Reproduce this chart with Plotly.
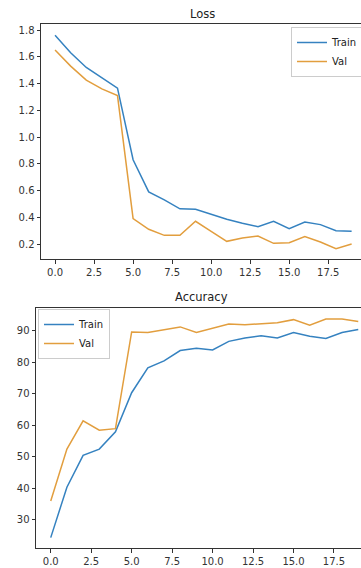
import plotly.graph_objects as go

epochs = list(range(20))
train_loss = [1.76, 1.63, 1.52, 1.44, 1.365, 0.83, 0.59, 0.53, 0.463, 0.46, 0.42, 0.385, 0.355, 0.33, 0.37, 0.315, 0.365, 0.345, 0.30, 0.295]
val_loss = [1.65, 1.53, 1.425, 1.36, 1.31, 0.39, 0.31, 0.265, 0.265, 0.37, 0.295, 0.22, 0.245, 0.26, 0.205, 0.21, 0.255, 0.215, 0.165, 0.20]
train_acc = [24.4, 40.4, 50.5, 52.5, 58.0, 70.4, 78.3, 80.5, 83.8, 84.5, 84.0, 86.7, 87.8, 88.5, 87.8, 89.5, 88.3, 87.6, 89.5, 90.5]
val_acc = [36.0, 52.5, 61.5, 58.5, 59.0, 89.7, 89.5, 90.5, 91.3, 89.5, 90.9, 92.2, 92.0, 92.2, 92.6, 93.6, 91.8, 93.8, 93.8, 93.0]

loss_yticks = [0.2, 0.4, 0.6, 0.8, 1.0, 1.2, 1.4, 1.6, 1.8]
acc_yticks = [30, 40, 50, 60, 70, 80, 90]
xticks = [0.0, 2.5, 5.0, 7.5, 10.0, 12.5, 15.0, 17.5]

BLUE = "#3582c0"
ORANGE = "#e29e3e"
W, H = 361, 568

fig = go.Figure()
fig.add_trace(go.Scatter(x=epochs, y=train_loss, mode="lines", name="Train",
                         line=dict(color=BLUE, width=1.5), xaxis="x", yaxis="y", legend="legend"))
fig.add_trace(go.Scatter(x=epochs, y=val_loss, mode="lines", name="Val",
                         line=dict(color=ORANGE, width=1.5), xaxis="x", yaxis="y", legend="legend"))
fig.add_trace(go.Scatter(x=epochs, y=train_acc, mode="lines", name="Train",
                         line=dict(color=BLUE, width=1.5), xaxis="x2", yaxis="y2", legend="legend2"))
fig.add_trace(go.Scatter(x=epochs, y=val_acc, mode="lines", name="Val",
                         line=dict(color=ORANGE, width=1.5), xaxis="x2", yaxis="y2", legend="legend2"))

axis_common = dict(showgrid=False, zeroline=False, showline=True, linecolor="#333333", linewidth=1,
                   ticks="outside", ticklen=3.5, tickcolor="#333333", tickwidth=1,
                   tickfont=dict(family="DejaVu Sans", size=10, color="#333333"))

fig.update_layout(
    width=W, height=H,
    margin=dict(l=0, r=0, t=0, b=0, autoexpand=False),
    paper_bgcolor="white", plot_bgcolor="white",
    font=dict(family="DejaVu Sans", color="#222222"),
    xaxis=dict(domain=[41 / W, 1.0], range=[-0.9, 19.6], anchor="y", mirror=True,
               tickvals=xticks, ticktext=[f"{v:.1f}" for v in xticks], **axis_common),
    yaxis=dict(domain=[1 - 259 / H, 1 - 24 / H], range=[0.088, 1.845], anchor="x",
               tickvals=loss_yticks, ticktext=[f"{v:.1f}" for v in loss_yticks], **axis_common),
    xaxis2=dict(domain=[36 / W, 1.0], range=[-0.91, 19.17], anchor="y2", mirror=True,
                tickvals=xticks, ticktext=[f"{v:.1f}" for v in xticks], **axis_common),
    yaxis2=dict(domain=[1 - 548 / H, 1 - 308 / H], range=[21.1, 97.3], anchor="x2",
                tickvals=acc_yticks, ticktext=[str(v) for v in acc_yticks], **axis_common),
    legend=dict(x=291 / W, y=1 - 27 / H, xanchor="left", yanchor="top",
                bgcolor="rgba(255,255,255,0.8)", bordercolor="#cccccc", borderwidth=1,
                font=dict(family="DejaVu Sans", size=10, color="#222222"), tracegroupgap=0,
                itemwidth=30),
    legend2=dict(x=38 / W, y=1 - 309 / H, xanchor="left", yanchor="top",
                 bgcolor="rgba(255,255,255,0.8)", bordercolor="#cccccc", borderwidth=1,
                 font=dict(family="DejaVu Sans", size=10, color="#222222"), tracegroupgap=0,
                 itemwidth=30),
    annotations=[
        dict(text="Loss", x=203 / W, y=1 - 14 / H, xref="paper", yref="paper",
             showarrow=False, font=dict(family="DejaVu Sans", size=11.5, color="#222222"),
             xanchor="center", yanchor="middle"),
        dict(text="Accuracy", x=201 / W, y=1 - 297 / H, xref="paper", yref="paper",
             showarrow=False, font=dict(family="DejaVu Sans", size=11.5, color="#222222"),
             xanchor="center", yanchor="middle"),
    ],
)

fig.write_html(
    "out.html",
    config={"displayModeBar": False},
    post_script="document.documentElement.style.margin='0';document.body.style.margin='0';"
                "document.body.style.padding='0';document.body.style.overflow='hidden';",
)
